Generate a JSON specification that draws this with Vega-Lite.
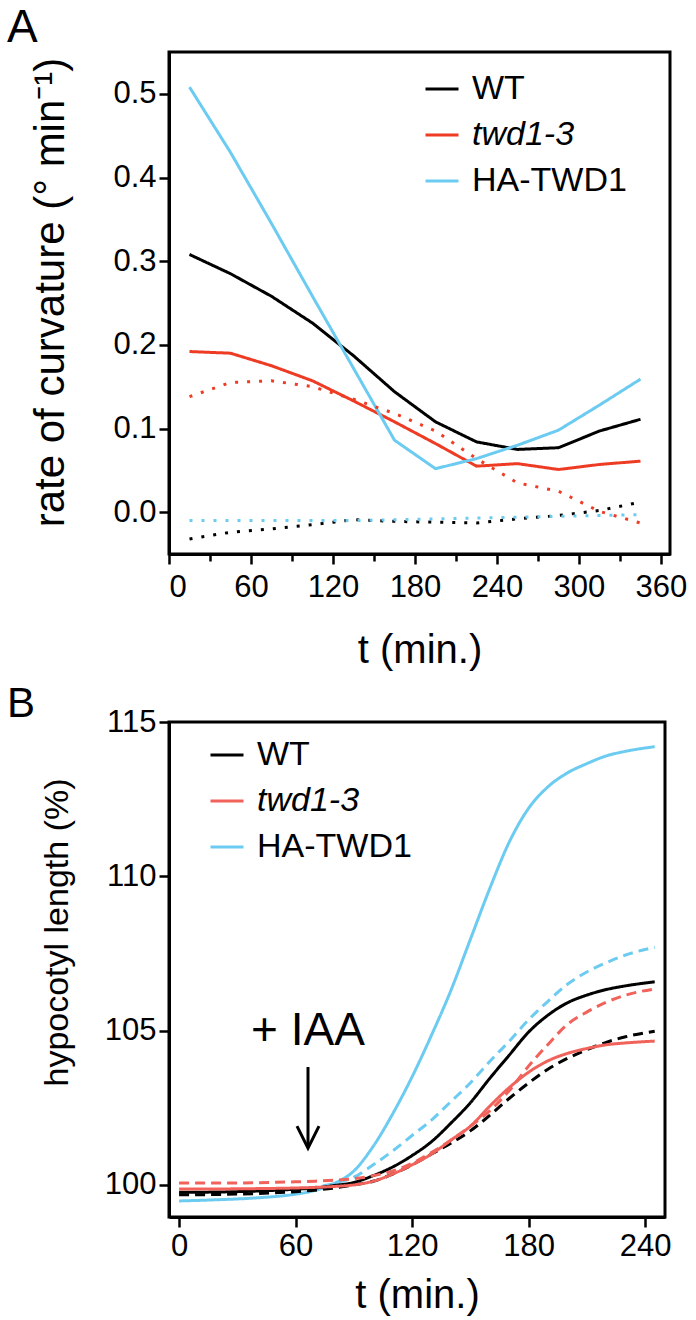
{
"$schema": "https://vega.github.io/schema/vega-lite/v6.json",
"background": "white",
"padding": {"left": 5, "top": 3, "right": 0, "bottom": 0},
"spacing": 9,
"config": {
 "font": "Liberation Sans",
 "view": {"stroke": "black", "strokeWidth": 3},
 "axis": {"grid": false, "domainColor": "black", "domainWidth": 3, "tickColor": "black", "tickWidth": 2.5, "tickSize": 10, "labelFont": "Liberation Sans", "labelFontSize": 31, "labelColor": "black", "labelPadding": 3, "titleFont": "Liberation Sans", "titleFontSize": 40, "titleFontWeight": "normal", "titleColor": "black"},
 "legend": {"labelFont": "Liberation Sans", "labelColor": "black", "labelFontSize": 34, "labelLimit": 400},
 "title": {"font": "Liberation Sans", "fontWeight": "normal", "color": "black", "anchor": "start", "frame": "group"}
},
"resolve": {"scale": {"color": "independent", "strokeDash": "independent"}, "legend": {"color": "independent", "strokeDash": "independent"}},
"datasets": {
 "A": [
  {"g":"WT","k":"solid","t":15,"v":0.308},{"g":"WT","k":"solid","t":45,"v":0.285},{"g":"WT","k":"solid","t":75,"v":0.258},{"g":"WT","k":"solid","t":105,"v":0.226},{"g":"WT","k":"solid","t":135,"v":0.187},{"g":"WT","k":"solid","t":165,"v":0.144},{"g":"WT","k":"solid","t":195,"v":0.108},{"g":"WT","k":"solid","t":225,"v":0.084},{"g":"WT","k":"solid","t":255,"v":0.075},{"g":"WT","k":"solid","t":285,"v":0.077},{"g":"WT","k":"solid","t":315,"v":0.097},{"g":"WT","k":"solid","t":345,"v":0.111},
  {"g":"twd1-3","k":"solid","t":15,"v":0.192},{"g":"twd1-3","k":"solid","t":45,"v":0.19},{"g":"twd1-3","k":"solid","t":75,"v":0.175},{"g":"twd1-3","k":"solid","t":105,"v":0.157},{"g":"twd1-3","k":"solid","t":135,"v":0.133},{"g":"twd1-3","k":"solid","t":165,"v":0.108},{"g":"twd1-3","k":"solid","t":195,"v":0.082},{"g":"twd1-3","k":"solid","t":225,"v":0.055},{"g":"twd1-3","k":"solid","t":255,"v":0.058},{"g":"twd1-3","k":"solid","t":285,"v":0.051},{"g":"twd1-3","k":"solid","t":315,"v":0.057},{"g":"twd1-3","k":"solid","t":345,"v":0.061},
  {"g":"HA-TWD1","k":"solid","t":15,"v":0.508},{"g":"HA-TWD1","k":"solid","t":45,"v":0.43},{"g":"HA-TWD1","k":"solid","t":75,"v":0.345},{"g":"HA-TWD1","k":"solid","t":105,"v":0.258},{"g":"HA-TWD1","k":"solid","t":135,"v":0.172},{"g":"HA-TWD1","k":"solid","t":165,"v":0.086},{"g":"HA-TWD1","k":"solid","t":195,"v":0.052},{"g":"HA-TWD1","k":"solid","t":225,"v":0.064},{"g":"HA-TWD1","k":"solid","t":255,"v":0.08},{"g":"HA-TWD1","k":"solid","t":285,"v":0.098},{"g":"HA-TWD1","k":"solid","t":315,"v":0.128},{"g":"HA-TWD1","k":"solid","t":345,"v":0.159},
  {"g":"WT","k":"dotted","t":15,"v":-0.032},{"g":"WT","k":"dotted","t":45,"v":-0.024},{"g":"WT","k":"dotted","t":75,"v":-0.02},{"g":"WT","k":"dotted","t":105,"v":-0.015},{"g":"WT","k":"dotted","t":135,"v":-0.009},{"g":"WT","k":"dotted","t":165,"v":-0.011},{"g":"WT","k":"dotted","t":195,"v":-0.012},{"g":"WT","k":"dotted","t":225,"v":-0.013},{"g":"WT","k":"dotted","t":255,"v":-0.008},{"g":"WT","k":"dotted","t":285,"v":-0.004},{"g":"WT","k":"dotted","t":315,"v":0.002},{"g":"WT","k":"dotted","t":345,"v":0.012},
  {"g":"twd1-3","k":"dotted","t":15,"v":0.138},{"g":"twd1-3","k":"dotted","t":45,"v":0.155},{"g":"twd1-3","k":"dotted","t":75,"v":0.157},{"g":"twd1-3","k":"dotted","t":105,"v":0.15},{"g":"twd1-3","k":"dotted","t":135,"v":0.135},{"g":"twd1-3","k":"dotted","t":165,"v":0.118},{"g":"twd1-3","k":"dotted","t":195,"v":0.097},{"g":"twd1-3","k":"dotted","t":225,"v":0.064},{"g":"twd1-3","k":"dotted","t":255,"v":0.035},{"g":"twd1-3","k":"dotted","t":285,"v":0.025},{"g":"twd1-3","k":"dotted","t":315,"v":0.001},{"g":"twd1-3","k":"dotted","t":345,"v":-0.013},
  {"g":"HA-TWD1","k":"dotted","t":15,"v":-0.01},{"g":"HA-TWD1","k":"dotted","t":45,"v":-0.01},{"g":"HA-TWD1","k":"dotted","t":75,"v":-0.01},{"g":"HA-TWD1","k":"dotted","t":105,"v":-0.01},{"g":"HA-TWD1","k":"dotted","t":135,"v":-0.01},{"g":"HA-TWD1","k":"dotted","t":165,"v":-0.009},{"g":"HA-TWD1","k":"dotted","t":195,"v":-0.008},{"g":"HA-TWD1","k":"dotted","t":225,"v":-0.007},{"g":"HA-TWD1","k":"dotted","t":255,"v":-0.006},{"g":"HA-TWD1","k":"dotted","t":285,"v":-0.005},{"g":"HA-TWD1","k":"dotted","t":315,"v":-0.004},{"g":"HA-TWD1","k":"dotted","t":345,"v":-0.003}
 ],
 "B": [
  {"g":"HA-TWD1","k":"solid","t":0,"v":99.48},{"g":"HA-TWD1","k":"solid","t":20,"v":99.52},{"g":"HA-TWD1","k":"solid","t":40,"v":99.58},{"g":"HA-TWD1","k":"solid","t":60,"v":99.7},{"g":"HA-TWD1","k":"solid","t":70,"v":99.82},{"g":"HA-TWD1","k":"solid","t":80,"v":100.05},{"g":"HA-TWD1","k":"solid","t":90,"v":100.45},{"g":"HA-TWD1","k":"solid","t":100,"v":101.25},{"g":"HA-TWD1","k":"solid","t":110,"v":102.3},{"g":"HA-TWD1","k":"solid","t":120,"v":103.5},{"g":"HA-TWD1","k":"solid","t":130,"v":104.85},{"g":"HA-TWD1","k":"solid","t":140,"v":106.3},{"g":"HA-TWD1","k":"solid","t":150,"v":107.95},{"g":"HA-TWD1","k":"solid","t":160,"v":109.6},{"g":"HA-TWD1","k":"solid","t":170,"v":111.1},{"g":"HA-TWD1","k":"solid","t":180,"v":112.2},{"g":"HA-TWD1","k":"solid","t":190,"v":112.9},{"g":"HA-TWD1","k":"solid","t":200,"v":113.35},{"g":"HA-TWD1","k":"solid","t":210,"v":113.65},{"g":"HA-TWD1","k":"solid","t":220,"v":113.9},{"g":"HA-TWD1","k":"solid","t":230,"v":114.05},{"g":"HA-TWD1","k":"solid","t":245,"v":114.2},
  {"g":"HA-TWD1","k":"dashed","t":0,"v":99.72},{"g":"HA-TWD1","k":"dashed","t":20,"v":99.74},{"g":"HA-TWD1","k":"dashed","t":40,"v":99.77},{"g":"HA-TWD1","k":"dashed","t":60,"v":99.85},{"g":"HA-TWD1","k":"dashed","t":70,"v":99.92},{"g":"HA-TWD1","k":"dashed","t":80,"v":100.05},{"g":"HA-TWD1","k":"dashed","t":90,"v":100.25},{"g":"HA-TWD1","k":"dashed","t":100,"v":100.65},{"g":"HA-TWD1","k":"dashed","t":110,"v":101.1},{"g":"HA-TWD1","k":"dashed","t":120,"v":101.6},{"g":"HA-TWD1","k":"dashed","t":130,"v":102.1},{"g":"HA-TWD1","k":"dashed","t":140,"v":102.7},{"g":"HA-TWD1","k":"dashed","t":150,"v":103.3},{"g":"HA-TWD1","k":"dashed","t":160,"v":104.0},{"g":"HA-TWD1","k":"dashed","t":170,"v":104.65},{"g":"HA-TWD1","k":"dashed","t":180,"v":105.35},{"g":"HA-TWD1","k":"dashed","t":190,"v":105.95},{"g":"HA-TWD1","k":"dashed","t":200,"v":106.5},{"g":"HA-TWD1","k":"dashed","t":210,"v":106.9},{"g":"HA-TWD1","k":"dashed","t":220,"v":107.2},{"g":"HA-TWD1","k":"dashed","t":230,"v":107.45},{"g":"HA-TWD1","k":"dashed","t":245,"v":107.7},
  {"g":"WT","k":"solid","t":0,"v":99.76},{"g":"WT","k":"solid","t":20,"v":99.77},{"g":"WT","k":"solid","t":40,"v":99.8},{"g":"WT","k":"solid","t":60,"v":99.86},{"g":"WT","k":"solid","t":70,"v":99.9},{"g":"WT","k":"solid","t":80,"v":99.98},{"g":"WT","k":"solid","t":90,"v":100.08},{"g":"WT","k":"solid","t":100,"v":100.3},{"g":"WT","k":"solid","t":110,"v":100.58},{"g":"WT","k":"solid","t":120,"v":100.95},{"g":"WT","k":"solid","t":130,"v":101.4},{"g":"WT","k":"solid","t":140,"v":102.0},{"g":"WT","k":"solid","t":150,"v":102.66},{"g":"WT","k":"solid","t":160,"v":103.45},{"g":"WT","k":"solid","t":170,"v":104.2},{"g":"WT","k":"solid","t":180,"v":104.95},{"g":"WT","k":"solid","t":190,"v":105.5},{"g":"WT","k":"solid","t":200,"v":105.9},{"g":"WT","k":"solid","t":210,"v":106.15},{"g":"WT","k":"solid","t":220,"v":106.33},{"g":"WT","k":"solid","t":230,"v":106.45},{"g":"WT","k":"solid","t":245,"v":106.58},
  {"g":"WT","k":"dashed","t":0,"v":99.68},{"g":"WT","k":"dashed","t":20,"v":99.69},{"g":"WT","k":"dashed","t":40,"v":99.72},{"g":"WT","k":"dashed","t":60,"v":99.78},{"g":"WT","k":"dashed","t":70,"v":99.83},{"g":"WT","k":"dashed","t":80,"v":99.9},{"g":"WT","k":"dashed","t":90,"v":100.0},{"g":"WT","k":"dashed","t":100,"v":100.12},{"g":"WT","k":"dashed","t":110,"v":100.35},{"g":"WT","k":"dashed","t":120,"v":100.65},{"g":"WT","k":"dashed","t":130,"v":101.0},{"g":"WT","k":"dashed","t":140,"v":101.35},{"g":"WT","k":"dashed","t":150,"v":101.75},{"g":"WT","k":"dashed","t":160,"v":102.25},{"g":"WT","k":"dashed","t":170,"v":102.8},{"g":"WT","k":"dashed","t":180,"v":103.3},{"g":"WT","k":"dashed","t":190,"v":103.75},{"g":"WT","k":"dashed","t":200,"v":104.1},{"g":"WT","k":"dashed","t":210,"v":104.38},{"g":"WT","k":"dashed","t":220,"v":104.62},{"g":"WT","k":"dashed","t":230,"v":104.8},{"g":"WT","k":"dashed","t":245,"v":104.98},
  {"g":"twd1-3","k":"solid","t":0,"v":99.87},{"g":"twd1-3","k":"solid","t":20,"v":99.87},{"g":"twd1-3","k":"solid","t":40,"v":99.88},{"g":"twd1-3","k":"solid","t":60,"v":99.9},{"g":"twd1-3","k":"solid","t":70,"v":99.92},{"g":"twd1-3","k":"solid","t":80,"v":99.95},{"g":"twd1-3","k":"solid","t":90,"v":100.0},{"g":"twd1-3","k":"solid","t":100,"v":100.12},{"g":"twd1-3","k":"solid","t":110,"v":100.35},{"g":"twd1-3","k":"solid","t":120,"v":100.65},{"g":"twd1-3","k":"solid","t":130,"v":101.0},{"g":"twd1-3","k":"solid","t":140,"v":101.45},{"g":"twd1-3","k":"solid","t":150,"v":101.9},{"g":"twd1-3","k":"solid","t":160,"v":102.55},{"g":"twd1-3","k":"solid","t":170,"v":103.15},{"g":"twd1-3","k":"solid","t":180,"v":103.65},{"g":"twd1-3","k":"solid","t":190,"v":104.02},{"g":"twd1-3","k":"solid","t":200,"v":104.26},{"g":"twd1-3","k":"solid","t":210,"v":104.42},{"g":"twd1-3","k":"solid","t":220,"v":104.54},{"g":"twd1-3","k":"solid","t":230,"v":104.6},{"g":"twd1-3","k":"solid","t":245,"v":104.66},
  {"g":"twd1-3","k":"dashed","t":0,"v":100.06},{"g":"twd1-3","k":"dashed","t":20,"v":100.06},{"g":"twd1-3","k":"dashed","t":40,"v":100.07},{"g":"twd1-3","k":"dashed","t":60,"v":100.1},{"g":"twd1-3","k":"dashed","t":70,"v":100.12},{"g":"twd1-3","k":"dashed","t":80,"v":100.15},{"g":"twd1-3","k":"dashed","t":90,"v":100.2},{"g":"twd1-3","k":"dashed","t":100,"v":100.3},{"g":"twd1-3","k":"dashed","t":110,"v":100.45},{"g":"twd1-3","k":"dashed","t":120,"v":100.7},{"g":"twd1-3","k":"dashed","t":130,"v":101.05},{"g":"twd1-3","k":"dashed","t":140,"v":101.45},{"g":"twd1-3","k":"dashed","t":150,"v":101.9},{"g":"twd1-3","k":"dashed","t":160,"v":102.4},{"g":"twd1-3","k":"dashed","t":170,"v":103.05},{"g":"twd1-3","k":"dashed","t":180,"v":103.85},{"g":"twd1-3","k":"dashed","t":190,"v":104.55},{"g":"twd1-3","k":"dashed","t":200,"v":105.2},{"g":"twd1-3","k":"dashed","t":210,"v":105.6},{"g":"twd1-3","k":"dashed","t":220,"v":105.92},{"g":"twd1-3","k":"dashed","t":230,"v":106.15},{"g":"twd1-3","k":"dashed","t":245,"v":106.35}
 ]
},
"vconcat": [
 {
  "width": 501, "height": 502,
  "title": {"text": "A", "fontSize": 46, "dx": -162, "offset": 0},
  "data": {"name": "A"},
  "mark": {"type": "line", "strokeWidth": 3},
  "encoding": {
   "x": {"field": "t", "type": "quantitative", "scale": {"domain": [0, 366.6], "nice": false, "zero": false},
         "axis": {"title": "t (min.)", "values": [0,30,60,90,120,150,180,210,240,270,300,330,360], "labelExpr": "datum.value % 60 === 0 ? datum.label : ''", "tickSize": {"condition": {"test": "datum.value % 60 === 0", "value": 10}, "value": 7}, "labelPadding": 8, "titlePadding": 28}},
   "y": {"field": "v", "type": "quantitative", "scale": {"domain": [-0.05, 0.55], "nice": false, "zero": false},
         "axis": {"title": "rate of curvature (° min⁻¹)", "values": [0,0.1,0.2,0.3,0.4,0.5], "format": ".1f", "titleFontSize": 42, "titlePadding": 40, "titleY": 240}},
   "color": {"field": "g", "type": "nominal", "scale": {"domain": ["WT","twd1-3","HA-TWD1"], "range": ["#000000","#ee3b24","#6ccbf0"]},
             "legend": {"title": null, "orient": "none", "legendX": 255, "legendY": 19, "padding": 0, "symbolType": "stroke", "symbolSize": 1089, "symbolStrokeWidth": 3, "labelOffset": 12, "rowPadding": 11,
                        "encode": {"labels": {"update": {"fontStyle": {"signal": "datum.label === 'twd1-3' ? 'italic' : 'normal'"}}}}}},
   "strokeDash": {"field": "k", "type": "nominal", "scale": {"domain": ["solid","dotted"], "range": [[1,0],[3,9]]}, "legend": null}
  }
 },
 {
  "width": 496, "height": 495,
  "title": {"text": "B", "fontSize": 42, "dx": -162, "offset": -20},
  "encoding": {
   "x": {"field": "t", "type": "quantitative", "scale": {"domain": [-5.2, 250.3], "nice": false, "zero": false},
         "axis": {"title": "t (min.)", "values": [0,60,120,180,240], "labelPadding": 4, "titlePadding": 14}},
   "y": {"field": "v", "type": "quantitative", "scale": {"domain": [98.96, 115], "nice": false, "zero": false},
         "axis": {"title": "hypocotyl length (%)", "values": [100,105,110,115], "titleFontSize": 34, "titlePadding": 30, "titleY": 210}}
  },
  "layer": [
   {
    "data": {"name": "B"},
    "mark": {"type": "line", "strokeWidth": 3, "interpolate": "monotone"},
    "encoding": {
     "color": {"field": "g", "type": "nominal", "scale": {"domain": ["WT","twd1-3","HA-TWD1"], "range": ["#000000","#f0625a","#6ccbf0"]},
               "legend": {"title": null, "orient": "none", "legendX": 40, "legendY": 15, "padding": 0, "symbolType": "stroke", "symbolSize": 1089, "symbolStrokeWidth": 3, "labelOffset": 12, "rowPadding": 11,
                          "encode": {"labels": {"update": {"fontStyle": {"signal": "datum.label === 'twd1-3' ? 'italic' : 'normal'"}}}}}},
     "strokeDash": {"field": "k", "type": "nominal", "scale": {"domain": ["solid","dashed"], "range": [[1,0],[10,6]]}, "legend": null}
    }
   },
   {
    "data": {"values": [{"t": 66.4, "v": 104.54, "label": "+ IAA"}]},
    "mark": {"type": "text", "fontSize": 46, "align": "center", "baseline": "alphabetic", "color": "black", "font": "Liberation Sans"},
    "encoding": {"text": {"field": "label"}}
   },
   {
    "data": {"values": [{"t": 66.4, "v": 103.82, "v2": 101.25}]},
    "mark": {"type": "rule", "strokeWidth": 3, "color": "black"},
    "encoding": {"y2": {"field": "v2"}}
   },
   {
    "data": {"values": [{"t": 66.4, "v": 101.55}]},
    "mark": {"type": "point", "shape": "M-1,-1L0,1L1,-1", "size": 484, "filled": false, "stroke": "black", "strokeWidth": 3, "opacity": 1},
    "encoding": {}
   }
  ]
 }
]
}
